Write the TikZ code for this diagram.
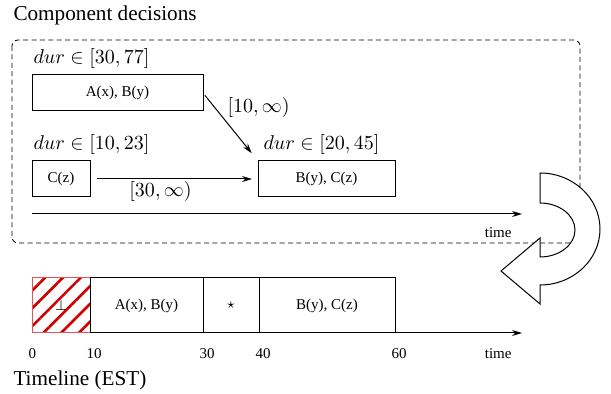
\documentclass[tikz,border=0pt]{standalone}
\usepackage{fontspec}
\setmainfont{Liberation Serif}
\usepackage{amsmath,amssymb}
\usetikzlibrary{arrows.meta, positioning, patterns.meta}
\definecolor{hatch}{HTML}{D10000}
\definecolor{hatchedge}{HTML}{E05555}

\begin{document}
\begin{tikzpicture}[x=0.5pt, y=-0.5pt, >={Stealth[length=5pt, width=3pt]}, line width=0.5pt,
    font=\fontsize{7.5}{9}\selectfont,
    box/.style={draw, inner sep=0pt, outer sep=0pt},
    dur/.style={font=\fontsize{9.7}{11}\selectfont, inner sep=0pt},
    lbl/.style={font=\fontsize{9.7}{11}\selectfont, inner sep=1pt},
    head/.style={font=\fontsize{10.6}{12}\selectfont, inner sep=0pt, anchor=west}]
  \useasboundingbox (0,0) rectangle (611,394);
  \node[head] (title) at (13,15) {Component decisions};
  \draw[dash pattern=on 2.5pt off 1.7pt, line width=0.4pt, rounded corners=3pt] (12,40) rectangle (580,243);
  \node[box, minimum width=85.5pt, minimum height=18pt, anchor=north west] (ab) at (32,75) {A(x), B(y)};
  \node[box, minimum width=29pt, minimum height=18pt, anchor=north west] (c) at (32,161) {C(z)};
  \node[box, minimum width=68.5pt, minimum height=18pt, anchor=north west] (bc) at (258,161) {B(y), C(z)};
  \node[dur, above right=3pt and 0.5pt of ab.north west] (dab) {$dur \in [30,77]$};
  \node[dur, above right=3pt and 0.5pt of c.north west] (dc) {$dur \in [10,23]$};
  \node[dur, above right=3pt and 2.5pt of bc.north west] (dbc) {$dur \in [20,45]$};
  \draw[->, shorten <=1.5pt, shorten >=5pt] (ab.east) -- node[lbl, pos=.4, anchor=south west] (l10) {$[10,\infty)$} (bc.north west);
  \draw[->, shorten <=3.5pt, shorten >=3pt] (c) -- node[lbl, pos=.42, below] (l30) {$[30,\infty)$} (bc);
  \coordinate (u0) at (32,214);
  \coordinate (u1) at (522,214);
  \draw[->] (u0) -- (u1);
  \node[anchor=north east, inner sep=0pt] (ut) at ([xshift=-5pt, yshift=-6.5pt]u1) {time};

  \draw[fill=white, line join=miter] (540,173) .. controls (573,173) and (600,198) .. (600,229)
    .. controls (600,260) and (573,285) .. (540,285) -- (540,304) -- (501,271) -- (540,238) -- (540,257)
    .. controls (559,257) and (575,245) .. (575,230) .. controls (575,215) and (559,203) .. (540,203) -- cycle;

  \coordinate (b0) at (32,333);
  \coordinate (b1) at (522,333);
  \draw[->] (b0) -- (b1);
  \node[box, draw=hatchedge, pattern={Lines[angle=45, distance=6.3pt, line width=1.3pt]}, pattern color=hatch,
    minimum width=29pt, minimum height=27.5pt, anchor=south west] (bot) at (32,333) {$\perp$};
  \node[box, minimum width=56.5pt, minimum height=27.5pt, right=0pt of bot] (lab) {A(x), B(y)};
  \node[box, minimum width=28pt, minimum height=27.5pt, right=0pt of lab] (lst) {$\star$};
  \node[box, minimum width=68pt, minimum height=27.5pt, right=0pt of lst] (lbc) {B(y), C(z)};
  \foreach \n/\v in {bot/0, lab/10, lst/30, lbc/40}
    \node[anchor=north west, inner sep=0pt] (n\v) at ([xshift=-2pt, yshift=-7.5pt]\n.south west) {\v};
  \node[anchor=north west, inner sep=0pt] (n60) at ([xshift=-2pt, yshift=-7.5pt]lbc.south east) {60};
  \node[anchor=north east, inner sep=0pt] (bt) at ([xshift=-5pt, yshift=-7.5pt]b1) {time};
  \node[head] (tl) at (13,380) {Timeline (EST)};
\end{tikzpicture}
\end{document}
